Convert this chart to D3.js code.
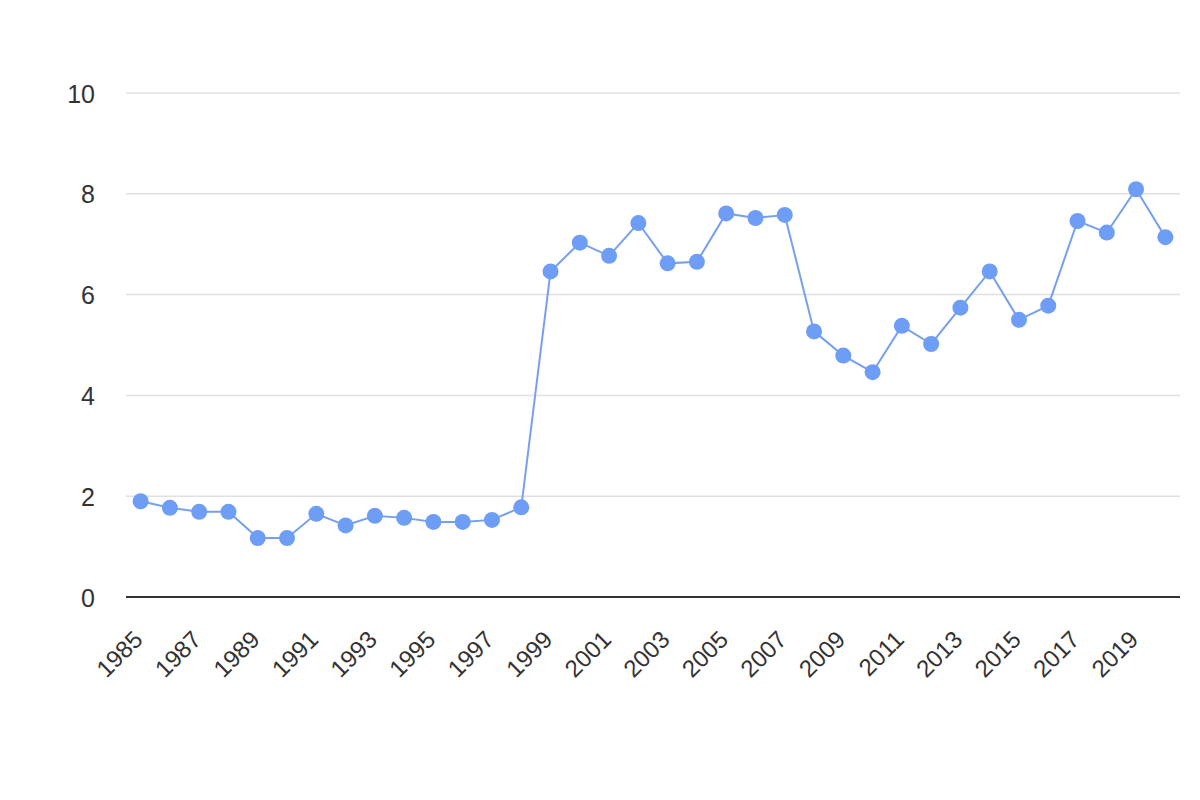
<!DOCTYPE html>
<html>
<head>
<meta charset="utf-8">
<script src="https://cdn.jsdelivr.net/npm/d3@7"></script>
<style>
  body { margin: 0; background: #fff; }
  svg { font-family: "Liberation Sans", Arial, sans-serif; }
</style>
</head>
<body>
<svg id="chart"></svg>
<script>
const width = 1200;
const height = 800;

// data
const years = d3.range(1985, 2021).map(String);
const values = [1.90, 1.77, 1.69, 1.69, 1.17, 1.17, 1.65, 1.42, 1.61, 1.57,
                1.49, 1.49, 1.53, 1.78, 6.46, 7.03, 6.77, 7.42, 6.62, 6.65,
                7.61, 7.52, 7.58, 5.27, 4.79, 4.46, 5.38, 5.02, 5.74, 6.46,
                5.50, 5.78, 7.46, 7.23, 8.09, 7.14];
const yTicks = [0, 2, 4, 6, 8, 10];
const xLabels = years.filter((d, i) => i % 2 === 0);

const margin = { top: 93, right: 20, bottom: 203, left: 126 };

const svg = d3.select('#chart')
  .attr('width', width)
  .attr('height', height);

const x = d3.scalePoint()
  .domain(years)
  .range([margin.left, width - margin.right])
  .padding(0.5);

const y = d3.scaleLinear()
  .domain([0, 10])
  .range([height - margin.bottom, margin.top]);

// gridlines
svg.append('g')
  .selectAll('line')
  .data(yTicks.filter(d => d !== 0))
  .enter()
  .append('line')
  .attr('x1', margin.left)
  .attr('x2', width - margin.right)
  .attr('y1', d => y(d))
  .attr('y2', d => y(d))
  .style('stroke', '#e0e0e0')
  .style('stroke-width', '1.5px');

// y axis labels
const yAxis = svg.append('g')
  .attr('transform', 'translate(' + (margin.left - 31) + ',1)')
  .call(d3.axisLeft(y).tickValues(yTicks).tickSize(0).tickPadding(0));
yAxis.select('.domain').remove();
yAxis.selectAll('text')
  .style('font-size', '25px')
  .style('fill', '#333')
  .attr('font-family', null);

// baseline
svg.append('line')
  .attr('x1', margin.left)
  .attr('x2', width - margin.right)
  .attr('y1', y(0))
  .attr('y2', y(0))
  .style('stroke', '#333')
  .style('stroke-width', '2px');

// x axis labels
const xAxis = svg.append('g')
  .attr('transform', 'translate(0,' + y(0) + ')')
  .call(d3.axisBottom(x).tickValues(xLabels).tickSize(0).tickPadding(0));
xAxis.select('.domain').remove();
xAxis.selectAll('text')
  .style('font-size', '24px')
  .style('fill', '#333')
  .attr('font-family', null)
  .attr('text-anchor', 'end')
  .attr('dy', null)
  .attr('y', 0)
  .attr('transform', 'translate(3,44) rotate(-45)');

// line
const line = d3.line()
  .x((d, i) => x(years[i]))
  .y(d => y(d));

svg.append('path')
  .datum(values)
  .attr('d', line)
  .style('fill', 'none')
  .style('stroke', '#76a0ee')
  .style('stroke-width', '2px');

svg.append('g')
  .selectAll('circle')
  .data(values)
  .enter()
  .append('circle')
  .attr('cx', (d, i) => x(years[i]))
  .attr('cy', d => y(d))
  .attr('r', 8)
  .style('fill', '#6e9df5');
</script>
</body>
</html>
